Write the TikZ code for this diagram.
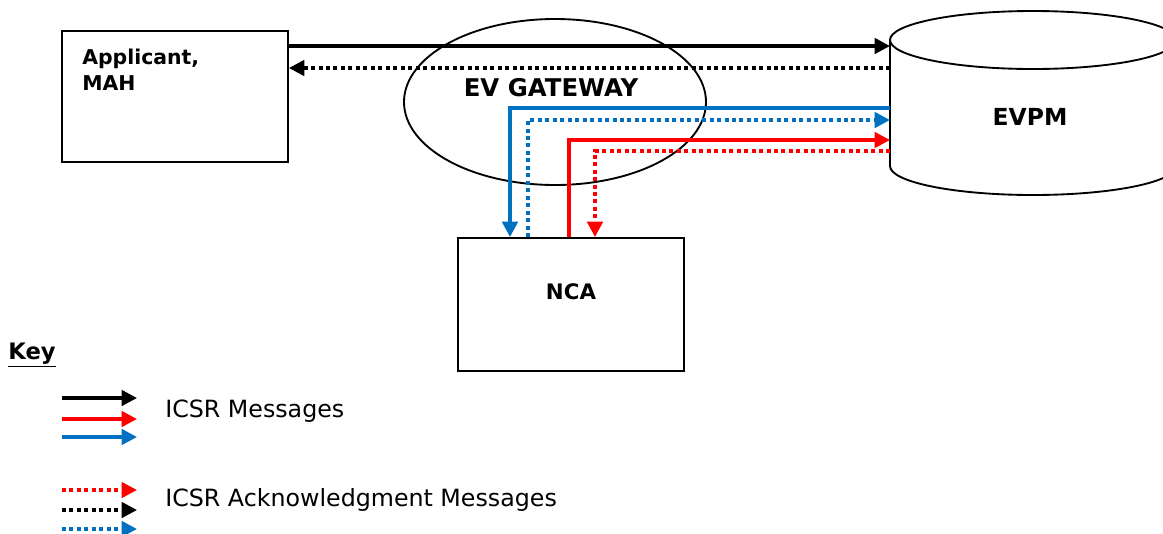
\documentclass[tikz,border=0pt]{standalone}
\usepackage{fontspec}
\setmainfont{DejaVu Sans}
\usetikzlibrary{arrows.meta,shapes.geometric}
\definecolor{evblue}{RGB}{0,112,192}
\definecolor{evred}{RGB}{255,0,0}

\begin{document}
\begin{tikzpicture}[x=0.75pt, y=-0.75pt,
  box/.style={draw=black, line width=1.4pt, minimum width=169.5pt},
  msg/.style={line width=2.6pt, -{Triangle[length=11.5pt,width=11.5pt]}},
  ack/.style={msg, dash pattern=on 3pt off 2.6pt},
  lbl/.style={font=\fontsize{16}{19}\selectfont\bfseries, inner sep=0pt},
  txt/.style={font=\fontsize{17.8}{20}\selectfont, inner sep=0pt}]
\useasboundingbox (0,0) rectangle (1163,533);
\clip (0,0) rectangle (1163,533);

% boxes
\node[box, minimum height=98.25pt] (app) at (175,96.5) {};
\node[lbl, font=\fontsize{15.3}{19}\selectfont\bfseries, anchor=north west, align=left] (apptxt) at (82,49) {Applicant,\\MAH};
\node[box, minimum height=99.75pt] (nca) at (571,304.5) {};
\node[lbl] (ncatxt) at (571,292) {NCA};
\node[draw, ellipse, line width=1.4pt, minimum width=226.5pt, minimum height=124.5pt] (gw) at (555,102) {};
\node[lbl, font=\fontsize{18.3}{20}\selectfont\bfseries] (gwtxt) at (551,88) {EV GATEWAY};

% EVPM store
\draw[line width=1.4pt, fill=white] (890,40) -- (890,166) arc[start angle=180, end angle=0, x radius=143, y radius=29] -- (1176,40);
\draw[line width=1.4pt] (1033,40) ellipse[x radius=143, y radius=29];
\node[lbl, font=\fontsize{17.6}{20}\selectfont\bfseries] (evpm) at (1030,117) {EVPM};

% message flows
\coordinate (e1) at (890,46);
\coordinate (e2) at (890,68);
\coordinate (e3) at (890,108);
\coordinate (e4) at (890,120);
\coordinate (e5) at (890,140);
\coordinate (e6) at (890,151);
\coordinate (n3) at (nca.north -| 510,0);
\coordinate (n4) at (nca.north -| 528,0);
\coordinate (n5) at (nca.north -| 569,0);
\coordinate (n6) at (nca.north -| 595,0);
\draw[msg, black] (app.east |- e1) -- (e1);
\draw[ack, black] (e2) -- (app.east |- e2);
\draw[msg, evblue] (e3) -| (n3);
\draw[ack, evblue] (n4) |- (e4);
\draw[msg, evred] (n5) |- (e5);
\draw[ack, evred] (e6) -| (n6);

% key
\node[lbl, font=\fontsize{17}{20}\selectfont\bfseries] (key) at (32,355) {\underline{Key}};
\coordinate (k1a) at (62,398); \coordinate (k1b) at (137,398);
\coordinate (k2a) at (62,419); \coordinate (k2b) at (137,419);
\coordinate (k3a) at (62,437); \coordinate (k3b) at (137,437);
\coordinate (k4a) at (62,490); \coordinate (k4b) at (137,490);
\coordinate (k5a) at (62,510); \coordinate (k5b) at (137,510);
\coordinate (k6a) at (62,529); \coordinate (k6b) at (137,529);
\draw[msg, black] (k1a) -- (k1b);
\draw[msg, evred] (k2a) -- (k2b);
\draw[msg, evblue] (k3a) -- (k3b);
\draw[ack, evred] (k4a) -- (k4b);
\draw[ack, black] (k5a) -- (k5b);
\draw[ack, evblue] (k6a) -- (k6b);
\node[txt, anchor=west] (msgtxt) at (165,411) {ICSR Messages};
\node[txt, anchor=west] (acktxt) at (165,500) {ICSR Acknowledgment Messages};
\end{tikzpicture}
\end{document}
